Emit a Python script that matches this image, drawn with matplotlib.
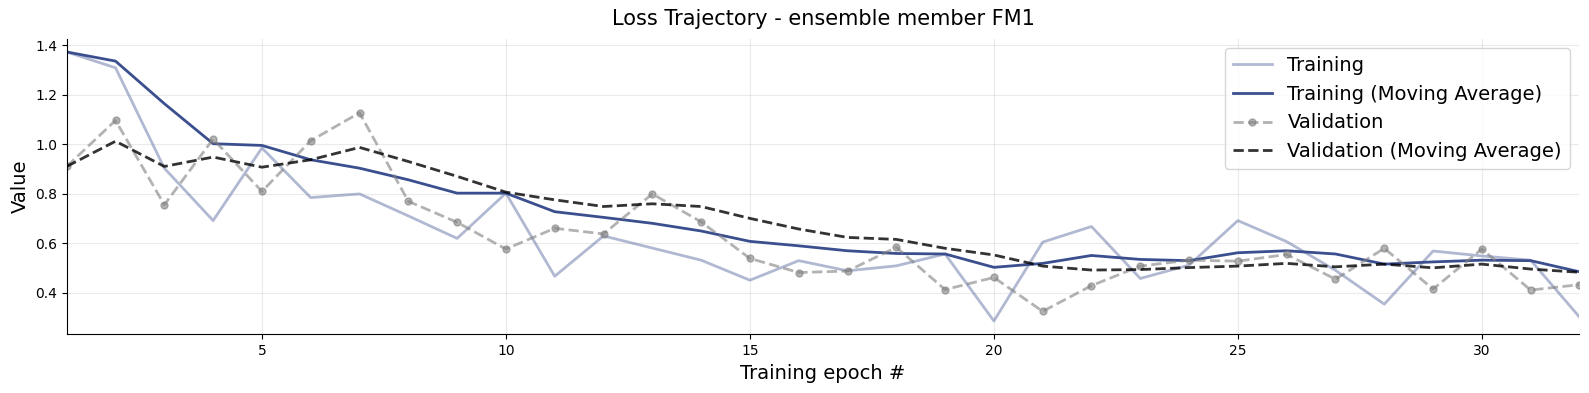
import matplotlib
matplotlib.use("Agg")
from matplotlib import pyplot as plt

epochs = list(range(1, 33))

train_loss = [1.373, 1.309, 0.903, 0.691, 0.985, 0.784, 0.799, 0.71, 0.619, 0.802,
              0.466, 0.629, 0.58, 0.531, 0.45, 0.529, 0.488, 0.508, 0.556, 0.285,
              0.604, 0.667, 0.457, 0.511, 0.691, 0.606, 0.49, 0.353, 0.568, 0.548,
              0.531, 0.301]
train_ma = [1.373, 1.336, 1.164, 1.002, 0.995, 0.937, 0.903, 0.856, 0.802, 0.802,
            0.727, 0.704, 0.68, 0.649, 0.607, 0.589, 0.569, 0.558, 0.556, 0.502,
            0.518, 0.55, 0.534, 0.529, 0.561, 0.569, 0.556, 0.515, 0.524, 0.531,
            0.529, 0.484]
val_loss = [0.91, 1.096, 0.755, 1.021, 0.809, 1.014, 1.127, 0.769, 0.684, 0.576,
            0.66, 0.637, 0.799, 0.686, 0.538, 0.481, 0.487, 0.583, 0.412, 0.461,
            0.324, 0.428, 0.507, 0.531, 0.527, 0.554, 0.454, 0.579, 0.414, 0.576,
            0.41, 0.432]
val_ma = [0.91, 1.012, 0.91, 0.948, 0.907, 0.937, 0.987, 0.93, 0.87, 0.806,
          0.775, 0.748, 0.759, 0.748, 0.70, 0.657, 0.623, 0.615, 0.579, 0.552,
          0.507, 0.491, 0.493, 0.501, 0.507, 0.518, 0.504, 0.515, 0.50, 0.515,
          0.495, 0.482]

BLUE = "#3b4f8f"


def main():
    fig = plt.figure(figsize=(15.89, 3.93), dpi=100)
    ax = fig.add_subplot()
    fig.subplots_adjust(left=0.042, right=0.994, bottom=0.149, top=0.902)

    ax.plot(epochs, train_loss, color=BLUE, alpha=0.4, lw=2, label="Training")
    ax.plot(epochs, train_ma, color=BLUE, lw=2, label="Training (Moving Average)")
    ax.plot(epochs, val_loss, "--o", color="gray", alpha=0.6, lw=2, markersize=5,
            label="Validation")
    ax.plot(epochs, val_ma, "--", color="black", alpha=0.8, lw=2,
            label="Validation (Moving Average)")

    ax.set_xlim(1, 32)
    ax.grid(alpha=0.25)
    ax.spines["top"].set_visible(False)
    ax.spines["right"].set_visible(False)
    ax.set_title("Loss Trajectory - ensemble member FM1", fontsize=15, pad=10)
    ax.set_xlabel("Training epoch #", fontsize=14)
    ax.set_ylabel("Value", fontsize=14)
    ax.legend(fontsize=14)

    fig.savefig("out.png", dpi=100)


if __name__ == "__main__":
    main()
